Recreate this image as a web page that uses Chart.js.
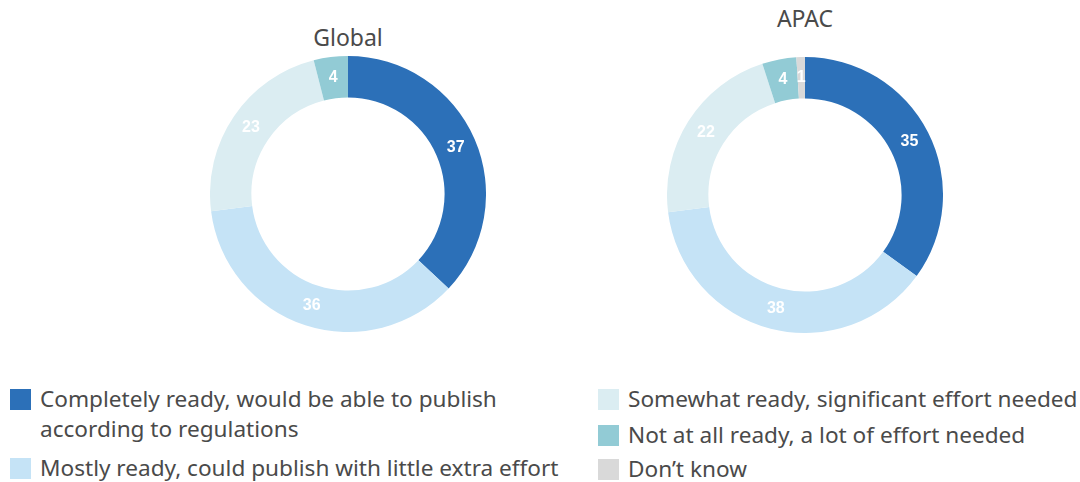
<!DOCTYPE html>
<html><head><meta charset="utf-8">
<script src="https://cdn.jsdelivr.net/npm/chart.js@4"></script>
<style>
html,body{margin:0;padding:0;background:#fff;width:1080px;height:482px;overflow:hidden;position:relative;font-family:"Noto Sans",sans-serif;color:#4a4a4a}
.box{position:absolute}
.title{position:absolute;font-size:23px;transform:translateX(-50%);white-space:nowrap;color:#4a4a4a}
.leg{position:absolute;font-size:22.6px;line-height:30px;color:#4a4a4a}
.leg .sw{position:absolute;left:0;top:4px;width:21px;height:21px}
.leg .tx{position:absolute;left:30px;top:-1px;white-space:nowrap}
</style></head><body>
<div class="title" style="left:348px;top:21px">Global</div>
<div class="title" style="left:805px;top:2px">APAC</div>
<div class="box" style="left:210px;top:56px;width:276px;height:276px"><canvas id="c1"></canvas></div>
<div class="box" style="left:667px;top:57px;width:276px;height:276px"><canvas id="c2"></canvas></div>
<div id="legend"></div>
<script>
const categories = [
  "Completely ready, would be able to publish\naccording to regulations",
  "Mostly ready, could publish with little extra effort",
  "Somewhat ready, significant effort needed",
  "Not at all ready, a lot of effort needed",
  "Don\u2019t know"
];
const globalValues = [37, 36, 23, 4, 0];
const apacValues = [35, 38, 22, 4, 1];
const colors = ["#2c70b8", "#c5e3f6", "#dbedf2", "#92cbd5", "#d9d9d9"];

const labelPlugin = {
  id: 'sliceLabels',
  afterDatasetsDraw(chart) {
    const ctx = chart.ctx;
    const meta = chart.getDatasetMeta(0);
    const data = chart.data.datasets[0].data;
    ctx.save();
    ctx.font = 'bold 16px "Liberation Sans", Arial, sans-serif';
    ctx.fillStyle = '#ffffff';
    ctx.textAlign = 'center';
    ctx.textBaseline = 'middle';
    meta.data.forEach((arc, i) => {
      if (!data[i]) return;
      const p = arc.getCenterPoint();
      ctx.fillText(String(data[i]), p.x, p.y);
    });
    ctx.restore();
  }
};

function makeChart(id, values) {
  return new Chart(document.getElementById(id), {
    type: 'doughnut',
    data: { labels: categories, datasets: [{ data: values, backgroundColor: colors, borderWidth: 0 }] },
    options: {
      responsive: true, maintainAspectRatio: false, animation: false,
      cutout: '70%',
      layout: { padding: 0 },
      plugins: { legend: { display: false }, tooltip: { enabled: false } }
    },
    plugins: [labelPlugin]
  });
}
makeChart('c1', globalValues);
makeChart('c2', apacValues);

// HTML legend
const legendPos = [[10, 385], [10, 454], [598, 385], [598, 421], [598, 455]];
const lg = document.getElementById('legend');
categories.forEach((c, i) => {
  const d = document.createElement('div');
  d.className = 'leg';
  d.style.left = legendPos[i][0] + 'px';
  d.style.top = legendPos[i][1] + 'px';
  const sw = document.createElement('div'); sw.className = 'sw'; sw.style.background = colors[i];
  const tx = document.createElement('div'); tx.className = 'tx';
  tx.innerHTML = c.split('\n').join('<br>');
  d.appendChild(sw); d.appendChild(tx); lg.appendChild(d);
});
</script>
</body></html>
